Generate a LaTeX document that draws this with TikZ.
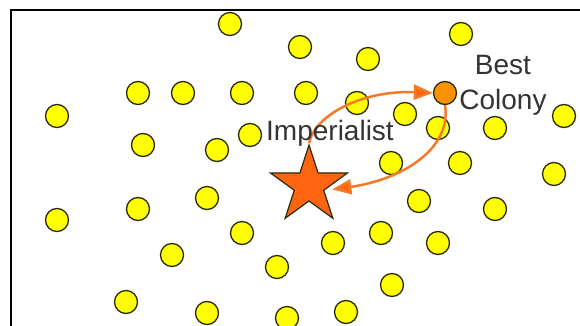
\documentclass[tikz,border=0pt]{standalone}
\usepackage{fontspec}
\setmainfont{Liberation Sans}
\usetikzlibrary{shapes.geometric,arrows.meta}
\pgfdeclarelayer{back}
\pgfdeclarelayer{mid}
\pgfsetlayers{back,mid,main}
\definecolor{dotyellow}{HTML}{FFFF00}
\definecolor{dotline}{HTML}{2B2B10}
\definecolor{colonyorange}{HTML}{F79200}
\definecolor{starorange}{HTML}{FF6410}
\definecolor{arroworange}{HTML}{F47A28}
\definecolor{labelgray}{HTML}{333333}
\tikzset{
  dot/.style={circle, fill=dotyellow, draw=dotline, line width=1.3pt, minimum size=23pt, inner sep=0pt},
  colony/.style={dot, fill=colonyorange},
  imperial/.style={star, star points=5, star point ratio=2.618, fill=starorange, draw=dotline, line width=1.2pt, minimum size=81pt, inner sep=0pt},
  lab/.style={text=labelgray, inner sep=0pt, font=\fontsize{28}{35}\selectfont},
  move/.style={draw=arroworange, line width=2.5pt, -{Triangle[length=19pt,width=15pt,fill=starorange]}},
  frameline/.style={draw=black, line width=2pt}
}
\begin{document}
\begin{tikzpicture}[x=1pt,y=-1pt]
\useasboundingbox (0,0) rectangle (580,326);
\begin{pgfonlayer}{back}
\fill[white] (0,0) rectangle (580,326);
\draw[frameline] (10.5,327) -- (10.5,10.5) -- (581,10.5);
% colonies
\foreach \x/\y [count=\i] in {230/24, 300/47, 368/59, 461/34,
  138/93, 183/93, 242/93, 306/93, 357/103, 405/114,
  57/116, 564/116, 438/128, 495/128,
  143/145, 217/150, 250/135,
  391/163, 460/163, 554/174,
  419/201, 495/209, 57/220, 138/209, 207/198,
  242/233, 381/233, 333/243, 438/243,
  172/255, 277/267, 392/285,
  126/302, 207/313, 287/318, 346/312}
  \node[dot] (c\i) at (\x,\y) {};
\end{pgfonlayer}
\node[colony] (best) at (445,93) {};
\node[lab, anchor=base] (implab) at (330,140) {Imperialist};
\node[lab, anchor=north, align=center] (bestlab) at (503,55) {Best\\Colony};
\node[imperial] (imp) at (309,185.5) {};
% moves
\begin{pgfonlayer}{mid}
\draw[move] (imp.outer point 1) .. controls (315,115) and (362,90) .. (best.west);
\draw[move, shorten >=8pt] (best.south) .. controls (452,150) and (400,180) .. (imp.-18);
\end{pgfonlayer}
\end{tikzpicture}
\end{document}
